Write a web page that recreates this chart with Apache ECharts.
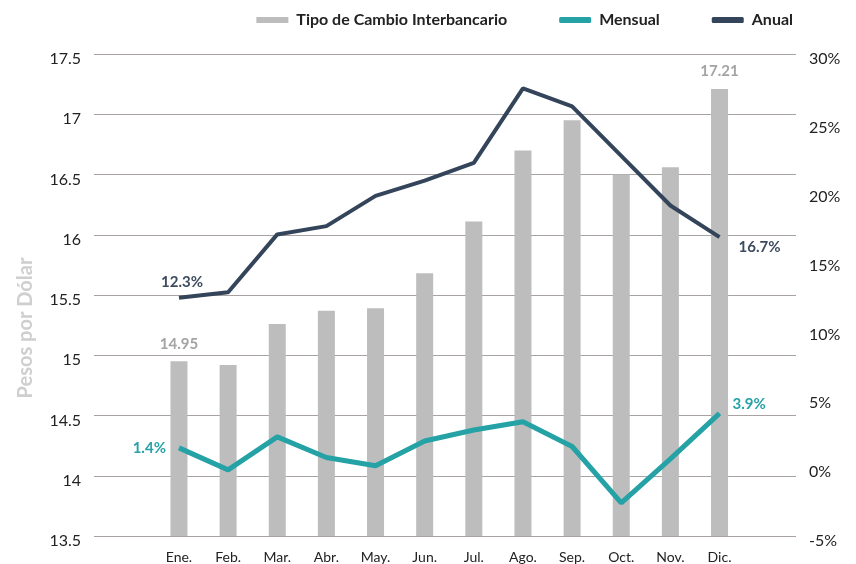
<!DOCTYPE html>
<html>
<head>
<meta charset="utf-8">
<title>Tipo de Cambio</title>
<script src="https://cdn.jsdelivr.net/npm/echarts@6/dist/echarts.min.js"></script>
<style>
  body { margin: 0; background: #fff; }
  #main { width: 856px; height: 564px; }
</style>
</head>
<body>
<div id="main"></div>
<script>
var meses = ['Ene.', 'Feb.', 'Mar.', 'Abr.', 'May.', 'Jun.', 'Jul.', 'Ago.', 'Sep.', 'Oct.', 'Nov.', 'Dic.'];
var tipoCambio = [14.95, 14.92, 15.26, 15.37, 15.39, 15.68, 16.11, 16.70, 16.95, 16.50, 16.56, 17.21];
var mensual = [1.4, -0.2, 2.2, 0.7, 0.1, 1.9, 2.7, 3.3, 1.5, -2.6, 0.6, 3.9];
var anual = [12.3, 12.7, 16.9, 17.5, 19.7, 20.8, 22.1, 27.5, 26.2, 22.6, 19.0, 16.7];

var font = 'Lato, "Noto Sans", sans-serif';
var gridColor = '#a9a2a2';

// etiqueta solo en el primero y el ultimo
function ends(arr, firstLabel, lastLabel) {
  return arr.map(function (v, i) {
    if (i === 0) return { value: v, label: firstLabel };
    if (i === arr.length - 1) return { value: v, label: lastLabel };
    return v;
  });
}

var chart = echarts.init(document.getElementById('main'));

var option = {
  animation: false,
  textStyle: { fontFamily: font },
  legend: {
    right: 58,
    top: 7,
    itemWidth: 32,
    itemHeight: 6,
    itemGap: 52,
    textStyle: { fontFamily: font, fontSize: 16, fontWeight: 'bold', color: '#222', padding: [0, 0, 0, 3] },
    data: [
      { name: 'Tipo de Cambio Interbancario', icon: 'rect' },
      { name: 'Mensual', icon: 'roundRect' },
      { name: 'Anual', icon: 'roundRect' }
    ]
  },
  grid: [
    { left: 94, right: 60, top: 54, bottom: 28, containLabel: false, outerBoundsMode: 'none' },
    { left: 154.4, right: 111.9, top: 54, bottom: 28, containLabel: false, outerBoundsMode: 'none' }
  ],
  xAxis: [
    { gridIndex: 0, type: 'value', min: 0, max: 1, show: false },
    {
      gridIndex: 1, type: 'category', data: meses,
      axisLine: { show: false }, axisTick: { show: false },
      axisLabel: { color: '#222', fontSize: 14, margin: 14, fontFamily: font }
    }
  ],
  yAxis: [
    {
      gridIndex: 0, type: 'value', min: 13.5, max: 17.5, interval: 0.5, position: 'left',
      name: 'Pesos por Dólar', nameLocation: 'middle', nameGap: 58,
      nameTextStyle: { color: '#cfcfcf', fontSize: 20, fontWeight: 'bold', fontFamily: font, padding: [0, 66, 0, 0] },
      axisLine: { show: false }, axisTick: { show: false },
      axisLabel: { color: '#222', fontSize: 16, margin: 13, fontFamily: font, verticalAlign: 'top', lineHeight: 10 },
      splitLine: { lineStyle: { color: gridColor, width: 1 } }
    },
    {
      gridIndex: 0, type: 'value', min: -5, max: 30, interval: 5, position: 'right',
      axisLine: { show: false }, axisTick: { show: false }, splitLine: { show: false },
      axisLabel: { color: '#222', fontSize: 16, margin: 13, fontFamily: font, verticalAlign: 'top', lineHeight: 10, formatter: '{value}%' }
    },
    { gridIndex: 1, type: 'value', min: 13.5, max: 17.5, show: false, splitLine: { show: false } },
    { gridIndex: 1, type: 'value', min: -5, max: 30, show: false, splitLine: { show: false } }
  ],
  series: [
    {
      name: 'Tipo de Cambio Interbancario',
      type: 'bar',
      xAxisIndex: 1, yAxisIndex: 2,
      barWidth: 17,
      itemStyle: { color: '#bdbdbd' },
      label: { show: false, position: 'top', distance: 10, color: '#a3a3a3', fontSize: 15, fontWeight: 'bold', fontFamily: font },
      data: ends(tipoCambio, { show: true }, { show: true })
    },
    {
      name: 'Mensual',
      type: 'line',
      xAxisIndex: 1, yAxisIndex: 3,
      symbol: 'circle', symbolSize: 0.1, showSymbol: true,
      color: '#24a2a5',
      lineStyle: { color: '#24a2a5', width: 5 },
      label: { show: false, color: '#24a2a5', fontSize: 15, fontWeight: 'bold', fontFamily: font, formatter: '{c}%' },
      data: ends(mensual,
        { show: true, position: 'left', distance: 13 },
        { show: true, position: 'right', distance: 13, offset: [0, -9] })
    },
    {
      name: 'Anual',
      type: 'line',
      xAxisIndex: 1, yAxisIndex: 3,
      symbol: 'circle', symbolSize: 0.1, showSymbol: true,
      color: '#34445a',
      lineStyle: { color: '#34445a', width: 4 },
      label: { show: false, color: '#3d4b5f', fontSize: 15, fontWeight: 'bold', fontFamily: font, formatter: '{c}%' },
      data: ends(anual,
        { show: true, position: 'top', distance: 8, offset: [3, 0] },
        { show: true, position: 'right', distance: 19, offset: [0, 10] })
    }
  ]
};

chart.setOption(option);
</script>
</body>
</html>
